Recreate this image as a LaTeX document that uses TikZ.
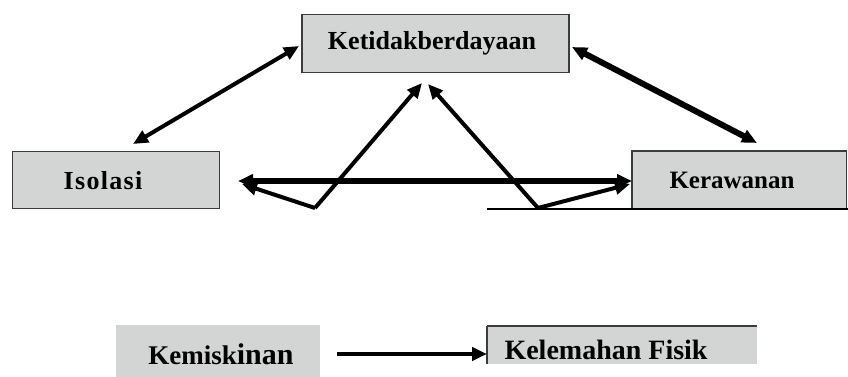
\documentclass[tikz,border=0pt]{standalone}
\usepackage{fontspec}
\setmainfont{Liberation Serif}
\usetikzlibrary{arrows.meta}
\definecolor{boxgray}{RGB}{211,212,212}
\definecolor{edgegray}{RGB}{60,60,60}
\tikzset{
  box/.style={rectangle, fill=boxgray, inner sep=0pt, anchor=north west},
  lbl/.style={inner sep=0pt, font=\bfseries},
  tip/.style={-{Triangle[length=15pt,width=13pt]}},
  dtip/.style={{Triangle[length=15pt,width=13pt]}-{Triangle[length=15pt,width=13pt]}},
  edge/.style={draw=edgegray, line width=1.2pt},
}
\begin{document}
\begin{tikzpicture}[x=1pt,y=-1pt]
\useasboundingbox (0,0) rectangle (848,377);
% boxes
\node[box, minimum width=266pt, minimum height=58pt, draw=edgegray, line width=1.2pt] (ket) at (302,14) {};
\node[box, minimum width=207pt, minimum height=57pt, draw=edgegray, line width=1.2pt] (iso) at (12,151) {};
\node[box, minimum width=214pt, minimum height=57pt] (ker) at (632,151) {};
\node[box, minimum width=204pt, minimum height=52pt] (kem) at (116,325) {};
\node[box, minimum width=270pt, minimum height=38pt] (kel) at (487,326) {};
% partial borders
\draw[edge, line width=2.5pt] (ket.north west) -- (ket.south west);
\draw[edge, line width=2.5pt] (ket.north east) -- (ket.south east);
\draw[edge] (ker.south west) -- (ker.north west) -- (ker.north east) -- (ker.south east);
\coordinate (cutL) at (487,209);
\coordinate (cutR) at (848,209);
\draw[black, line width=1.2pt] (cutL) -- (cutR);
\draw[edge] (kel.north west) -- (kel.north east);
\draw[edge, line width=2pt] (kel.north west) -- (kel.south west);
% texts
\node[lbl, font=\fontsize{26}{30}\selectfont\bfseries] (ketT) at (432,43) {Ketidakberdayaan};
\node[lbl, font=\fontsize{26}{30}\selectfont\bfseries\addfontfeature{LetterSpace=5}] (isoT) at (103,181) {Isolasi};
\node[lbl, font=\fontsize{25}{30}\selectfont\bfseries] (kerT) at (732,180) {Kerawanan};
\node[lbl, font=\fontsize{27}{30}\selectfont\bfseries] (kemT) at (221,354) {Kemisk{\fontsize{30}{30}\selectfont inan}};
\node[lbl, font=\fontsize{28}{30}\selectfont\bfseries] (kelT) at (606,350) {Kelemahan Fisik};
% connector end points
\coordinate (a1) at (299,46);
\coordinate (a2) at (133,144);
\coordinate (b1) at (572,47);
\coordinate (b2) at (757,143);
\coordinate (h1) at (238,181);
\coordinate (h2) at (632,181);
\coordinate (L) at (315,208);
\coordinate (R) at (538,208);
\coordinate (u1) at (422,83);
\coordinate (u2) at (428,84);
\coordinate (s1) at (242,184);
\coordinate (s2) at (630,184);
\coordinate (k1) at (337,354);
\coordinate (k2) at (487,354);
% connectors
\draw[dtip, line width=4pt] (a1) -- (a2);
\draw[dtip, line width=6pt] (b1) -- (b2);
\draw[dtip, line width=5.5pt] (h1) -- (h2);
\draw[tip, line width=4pt] (L) -- (u1);
\draw[tip, line width=4pt] (R) -- (u2);
\draw[tip, line width=4pt] (L) -- (s1);
\draw[tip, line width=4pt] (R) -- (s2);
\draw[tip, line width=4pt] (k1) -- (k2);
\end{tikzpicture}
\end{document}
